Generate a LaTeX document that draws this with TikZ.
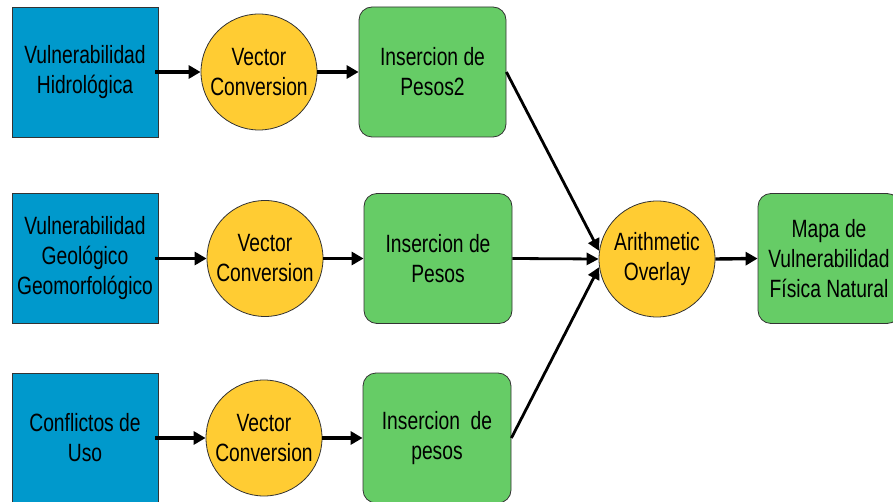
\documentclass[tikz,border=0pt]{standalone}
\usepackage{fontspec}
\setmainfont[FakeStretch=0.77]{Liberation Sans}
\usetikzlibrary{arrows.meta}
\definecolor{srcblue}{RGB}{0,153,204}
\definecolor{toolyellow}{RGB}{255,204,51}
\definecolor{datagreen}{RGB}{102,204,102}
\tikzset{
  lbl/.style={font=\fontsize{25}{30}\selectfont, align=center, text=black, inner sep=0pt},
  srcbox/.style={lbl, rectangle, draw=black!80, line width=0.8pt, fill=srcblue,
    minimum width=146pt, minimum height=130pt},
  toolcirc/.style={lbl, circle, draw=black!80, line width=0.8pt, fill=toolyellow,
    minimum size=116pt},
  databox/.style={lbl, rectangle, rounded corners=13pt, draw=black!80, line width=0.8pt,
    fill=datagreen, minimum width=148pt, minimum height=130pt},
  flow/.style={line width=3.4pt, -{Triangle[length=12pt,width=13pt]}},
  feed/.style={line width=2.8pt, -{Triangle[length=12pt,width=12pt]}}
}
\begin{document}
\begin{tikzpicture}[x=1pt,y=-1pt]
\useasboundingbox (0,0) rectangle (893,502);
\fill[white] (0,0) rectangle (893,502);

% sources
\node[srcbox] (s1) at (85,72) {Vulnerabilidad\\Hidrológica};
\node[srcbox] (s2) at (85,258.5) {Vulnerabilidad\\Geológico\\Geomorfológico};
\node[srcbox] (s3) at (85,438) {Conflictos de\\Uso};

% conversions
\node[toolcirc] (c1) at (259,72) {Vector\\Conversion};
\node[toolcirc] (c2) at (265,258.5) {Vector\\Conversion};
\node[toolcirc] (c3) at (264,438) {Vector\\Conversion};

% weighting
\node[databox, minimum width=147pt] (w1) at (432.5,72) {Insercion de\\Pesos2};
\node[databox] (w2) at (438,258.5) {Insercion de\\Pesos};
\node[databox] (w3) at (437,438) {Insercion\ \ de\\pesos};

% overlay and result
\node[toolcirc] (ov) at (657,259) {Arithmetic\\Overlay};
\node[databox, minimum width=142pt] (out) at (829,258.5) {Mapa de\\Vulnerabilidad\\Física Natural};

% connectors
\foreach \i in {1,2,3}{
  \draw[flow] ([xshift=-3pt]s\i.east) -- (c\i.west);
  \draw[flow] (c\i.east) -- (w\i.west);
}
\draw[feed] (w1.east) -- (ov.172);
\draw[feed] (w2.east) -- (ov.180);
\draw[feed] (w3.east) -- (ov.188);
\draw[flow] (ov.east) -- (out.west);
\end{tikzpicture}
\end{document}
